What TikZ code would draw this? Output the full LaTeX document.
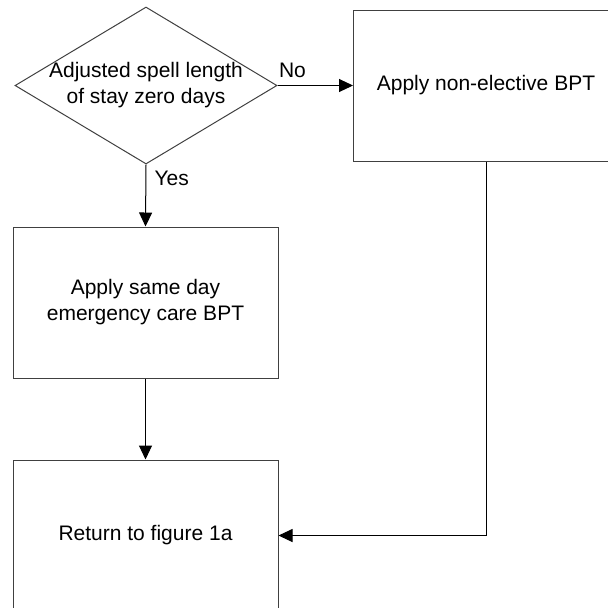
\documentclass[tikz,border=0pt]{standalone}
\usepackage{fontspec}
\setmainfont{Liberation Sans}
\usetikzlibrary{shapes.geometric,arrows.meta}

\colorlet{colorBox}{black!75}
\colorlet{colorFlow}{black}
\tikzset{
   every path/.style={>={Triangle[length=7pt,width=6.5pt]}},
   every node/.style={font=\fontsize{10.5}{13}\selectfont},
   stepbox/.style={draw=colorBox,line width=0.5pt,rectangle,minimum width=132.5pt,minimum height=75.5pt,align=center},
   decision/.style={draw=colorBox,line width=0.5pt,diamond,minimum width=131pt,minimum height=78.5pt,inner sep=0pt},
   flow/.style={->,color=colorFlow,line width=0.5pt},
 }
\newcommand{\dflow}[2]{\draw[flow] (#1) -- (#2)}
\newcommand{\dyes}[2]{\draw[flow] (#1) -- node[pos=0,anchor=north west,inner xsep=4pt,inner ysep=3pt] {Yes} (#2)}
\newcommand{\dno}[2]{\draw[flow] (#1) -- node[pos=0,anchor=south west,inner xsep=0.5pt,inner ysep=3.5pt] {No} (#2)}

\begin{document}
\begin{tikzpicture}[x=0.5pt,y=-0.5pt]
      \useasboundingbox (0,0) rectangle (608,607);

      \node[decision] (LOS0) at (146,85.5) {};
      \node[align=center] (LOS0txt) at (LOS0) {Adjusted spell length\\of stay zero days};

      \node[stepbox] (NEBPT) at (486,85.5) {Apply non-elective BPT};
      \dno{LOS0.east}{NEBPT.west};

      \node[stepbox] (SDEC) at (145.5,302.5) {Apply same day\\emergency care BPT};
      \dyes{LOS0.south}{SDEC.north};

      \node[stepbox] (RET) at (145.5,535.5) {Return to figure 1a};
      \dflow{SDEC.south}{RET.north};
      \draw[flow] (NEBPT.south) |- (RET.east);
    \end{tikzpicture}
\end{document}
